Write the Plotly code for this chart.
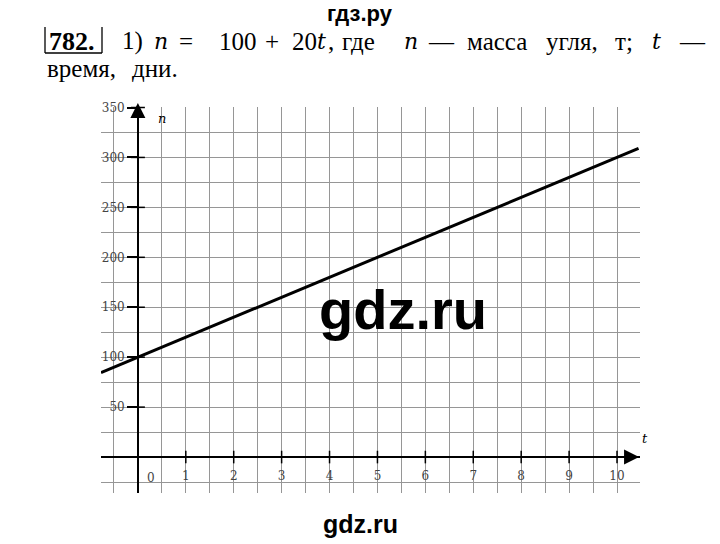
import plotly.graph_objects as go

# ---- data ----
t_line = [-0.77, 0, 5, 10, 10.45]
n_line = [84.6, 100, 200, 300, 309]

t_ticks = [1, 2, 3, 4, 5, 6, 7, 8, 9, 10]
t_labels = ["1", "2", "3", "4", "5", "6", "7", "8", "9", "10"]
n_ticks = [0, 50, 100, 150, 200, 250, 300, 350]
n_labels = ["", "50", "100", "150", "200", "250", "300", "350"]

X_RANGE = [-0.77, 10.48]
Y_RANGE = [-36, 350.5]

# ---- plot-area placement (pixels) ----
W, H = 720, 544
PX_L, PX_R, PX_T, PX_B = 101, 640, 107, 493


def px(x):
    return (x - PX_L) / (PX_R - PX_L)


def py(y):
    return (PX_B - y) / (PX_B - PX_T)


SERIF = "Liberation Serif, Times New Roman, serif"
ITAL = "DejaVu Serif, serif"
TICKFONT = dict(family="DejaVu Serif, serif", size=12, color="#444")
GRID = "#969696"

fig = go.Figure()

# main line
fig.add_trace(go.Scatter(x=t_line, y=n_line, mode="lines",
                         line=dict(color="black", width=3),
                         hoverinfo="skip", showlegend=False,
                         cliponaxis=True))

# crossing tick marks on the axes
fig.add_trace(go.Scatter(x=t_ticks, y=[0] * len(t_ticks), mode="markers",
                         marker=dict(symbol="line-ns", size=9,
                                     line=dict(color="black", width=1.5)),
                         xaxis="x2", yaxis="y2", hoverinfo="skip",
                         showlegend=False, cliponaxis=False))
fig.add_trace(go.Scatter(x=[0] * len(n_ticks[1:]), y=n_ticks[1:], mode="markers",
                         marker=dict(symbol="line-ew", size=10,
                                     line=dict(color="black", width=1.5)),
                         xaxis="x2", yaxis="y2", hoverinfo="skip",
                         showlegend=False, cliponaxis=False))

pos_y_axis = (0 - X_RANGE[0]) / (X_RANGE[1] - X_RANGE[0])
pos_x_axis = (0 - Y_RANGE[0]) / (Y_RANGE[1] - Y_RANGE[0])

annotations = []


def txt(text, x, y, size, family=SERIF, xanchor="left", color="black"):
    annotations.append(dict(text=text, x=px(x), y=py(y), xref="paper", yref="paper",
                            xanchor=xanchor, yanchor="middle", showarrow=False,
                            font=dict(family=family, size=size, color=color)))


# header
txt("<b>гдз.ру</b>", 360, 13, 22, family="Liberation Sans, Arial, sans-serif", xanchor="center")
txt("<b>782.</b>", 72, 41, 26, xanchor="center")
pieces = [("1)", 120), ("=", 177), ("100", 217), ("+", 263),
          ("20", 290), (",", 326), ("где", 340), ("—", 426),
          ("масса", 465), ("угля,", 544), ("т;", 613), ("—", 677)]
for s, x in pieces:
    txt(s, x, 41, 25)
for s, x in [("<i>n</i>", 152), ("<i>t</i>", 315), ("<i>n</i>", 402), ("<i>t</i>", 650)]:
    txt(s, x, 41, 22, family=ITAL)
txt("время,", 45, 68, 25)
txt("дни.", 130, 68, 25)

# axis names
txt("<i>n</i>", 162, 118, 13, family=ITAL, xanchor="center")
txt("<i>t</i>", 645, 438, 13, family=ITAL, xanchor="center")
# origin label
annotations.append(dict(text="0", x=0, y=0, xref="x2", yref="y2", xanchor="center",
                        yanchor="middle", xshift=13, yshift=-21, showarrow=False,
                        font=TICKFONT))

# watermarks
txt("<b>gdz.ru</b>", 403, 309, 56, family="Liberation Sans, Arial, sans-serif", xanchor="center")
txt("<b>gdz.ru</b>", 360, 524, 25, family="Liberation Sans, Arial, sans-serif", xanchor="center")

# axis arrows
annotations.append(dict(x=0, y=py(103), xref="x", yref="paper", ax=0, ay=30, text="",
                        showarrow=True, arrowhead=2, arrowsize=2.5, arrowwidth=1.2,
                        arrowcolor="black", standoff=0))
annotations.append(dict(x=10.46, y=0, xref="x", yref="y", ax=-30, ay=0, text="",
                        showarrow=True, arrowhead=2, arrowsize=2.5, arrowwidth=1.2,
                        arrowcolor="black", standoff=0))

# box around the exercise number
shapes = [
    dict(type="line", xref="paper", yref="paper", x0=px(45), x1=px(45), y0=py(27), y1=py(53),
         line=dict(color="black", width=1.3)),
    dict(type="line", xref="paper", yref="paper", x0=px(102), x1=px(102), y0=py(27), y1=py(53),
         line=dict(color="black", width=1.3)),
    dict(type="line", xref="paper", yref="paper", x0=px(45), x1=px(102), y0=py(53), y1=py(53),
         line=dict(color="black", width=1.3)),
]

fig.update_layout(
    width=W, height=H,
    margin=dict(l=PX_L, r=W - PX_R, t=PX_T, b=H - PX_B, pad=0),
    paper_bgcolor="white", plot_bgcolor="white",
    showlegend=False,
    xaxis=dict(range=X_RANGE, tick0=0, dtick=0.5, showgrid=True, gridcolor=GRID,
               gridwidth=1.3, zeroline=False, showline=False, showticklabels=False,
               ticks="", fixedrange=True),
    yaxis=dict(range=Y_RANGE, tick0=0, dtick=25, showgrid=True, gridcolor=GRID,
               gridwidth=1.3, zeroline=False, showline=False, showticklabels=False,
               ticks="", fixedrange=True),
    xaxis2=dict(range=X_RANGE, overlaying="x", anchor="free", position=pos_x_axis,
                side="bottom", showgrid=False, zeroline=False, showline=True,
                linecolor="black", linewidth=1.5, tickmode="array", tickvals=t_ticks,
                ticktext=t_labels, ticks="outside", ticklen=8,
                tickcolor="rgba(0,0,0,0)", tickfont=TICKFONT, fixedrange=True),
    yaxis2=dict(range=Y_RANGE, overlaying="y", anchor="free", position=pos_y_axis,
                side="left", showgrid=False, zeroline=False, showline=True,
                linecolor="black", linewidth=1.5, tickmode="array", tickvals=n_ticks,
                ticktext=n_labels, ticks="outside", ticklen=10, tickwidth=1.5,
                tickcolor="black", tickfont=TICKFONT, fixedrange=True),
    annotations=annotations,
    shapes=shapes,
)

fig.write_html("out.html", config={"displayModeBar": False},
               post_script="document.body.style.margin='0';document.body.style.overflow='hidden';")
